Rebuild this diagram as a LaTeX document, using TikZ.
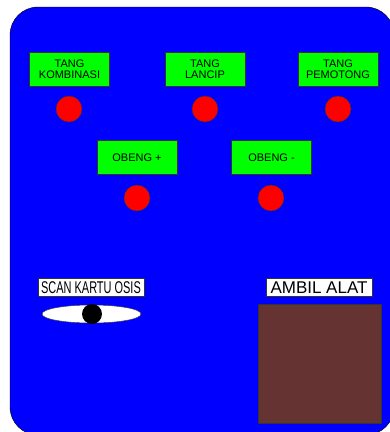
\documentclass[tikz,border=0pt]{standalone}
\usepackage{fontspec}
\setmainfont{Liberation Sans}
\usepackage{graphicx}
\usetikzlibrary{shapes.geometric}
\definecolor{kotak}{HTML}{663333}

\begin{document}
\begin{tikzpicture}[x=1pt,y=-1pt,
    alat/.style={draw=black!80, fill=green, minimum width=80pt, minimum height=34pt,
      align=center, inner sep=1pt, font=\fontsize{11}{11.5}\selectfont},
    tombol/.style={circle, draw=black!80, fill=red, minimum size=26pt, inner sep=0pt},
    label/.style={draw=black!80, fill=white, minimum height=18pt, inner sep=1pt,
      font=\fontsize{17}{17}\selectfont}]
    \useasboundingbox (0,0) rectangle (390,432);
    \clip (0,0) rectangle (390,432);
    % panel
    \draw[fill=blue, rounded corners=28pt] (10,7) rectangle (394,435);
    % tang
    \node[alat] (kombinasi) at (69.5,69) {TANG\\KOMBINASI};
    \node[alat] (lancip) at (205,69) {TANG\\LANCIP};
    \node[alat] (pemotong) at (338,69) {TANG\\PEMOTONG};
    \node[tombol] (t1) at (69,109) {};
    \node[tombol] (t2) at (205,109) {};
    \node[tombol] (t3) at (338,109) {};
    % obeng
    \node[alat] (plus) at (137,157.5) {OBENG +};
    \node[alat] (minus) at (271.5,157.5) {OBENG -};
    \node[tombol] (t4) at (137,198) {};
    \node[tombol] (t5) at (271,198) {};
    % scan
    \node[label, minimum width=106pt] (scan) at (91,287.5) {\scalebox{0.645}[1]{SCAN KARTU OSIS}};
    \node[ellipse, draw=black!80, fill=white, minimum width=99pt, minimum height=18pt, inner sep=0pt] (slot) at (91.5,314) {};
    \node[circle, fill=black, minimum size=20pt, inner sep=0pt] (kartu) at (92,314) {};
    % ambil
    \node[label, minimum width=106pt] (ambil) at (319,287.5) {AMBIL ALAT};
    \node[draw=black!80, fill=kotak, line width=0.8pt, minimum width=123pt, minimum height=119pt] (laci) at (319.5,363.5) {};
\end{tikzpicture}
\end{document}
